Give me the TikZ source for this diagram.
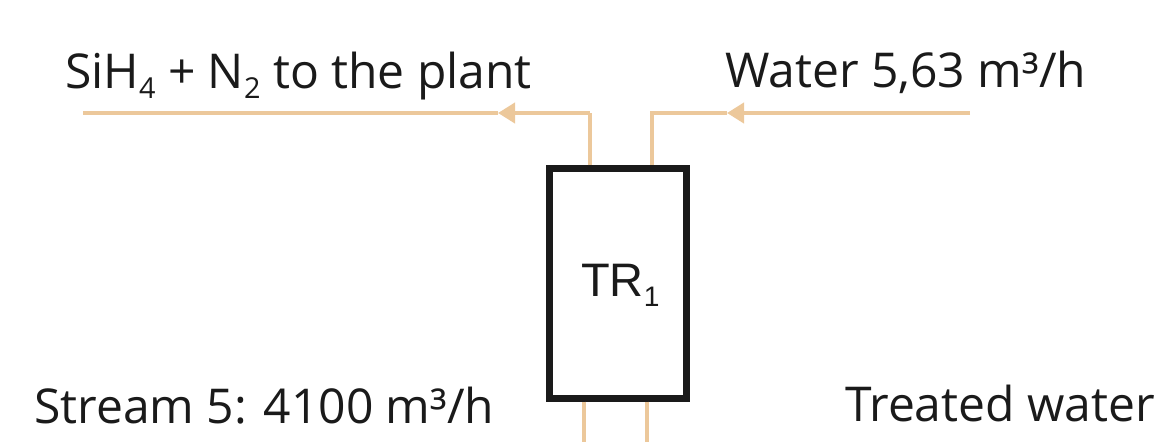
\documentclass[tikz,border=0pt]{standalone}
\usepackage{fontspec}
\setmainfont{Open Sans}
\newfontfamily\arialfont{Liberation Sans}
\usetikzlibrary{arrows.meta}
\definecolor{pipe}{RGB}{236,200,155}
\definecolor{ink}{RGB}{26,26,26}
\newcommand{\sbx}[1]{\raisebox{-0.22em}{\scalebox{0.6}{#1}}}
\tikzset{
  flow/.style={draw=pipe, line width=4pt},
  tip/.style={-{Triangle[length=17pt,width=20pt]}},
  lbl/.style={inner sep=0pt, anchor=base west, text=ink, font=\fontsize{48pt}{54pt}\selectfont},
  vessel/.style={draw=ink, line width=7pt, minimum width=137pt, minimum height=229.5pt, inner sep=0pt}
}
\begin{document}
\begin{tikzpicture}[x=1pt,y=-1pt]
\useasboundingbox (0,0) rectangle (1160,442);
\node[vessel] (tr) at (618,283.25) {};
\node[lbl, font=\arialfont\fontsize{47pt}{53pt}\selectfont] (trl) at (581,296) {TR\sbx{1}};
% top streams
\coordinate (outEnd) at (83,113);
\coordinate (outTip) at (498,113);
\coordinate (outCorner) at (590,113);
\coordinate (inStart) at (970,113);
\coordinate (inTip) at (727,113);
\coordinate (inCorner) at (652,113);
\draw[flow] (outCorner |- tr.north) -- (outCorner);
\draw[flow, tip] (outCorner) -- (outTip);
\draw[flow] (outTip) -- (outEnd);
\draw[flow, tip] (inStart) -- (inTip);
\draw[flow] (inTip) -- (inCorner) -- (inCorner |- tr.north);
% bottom streams
\coordinate (b1) at (584,442);
\coordinate (b2) at (647,442);
\draw[flow] (b1 |- tr.south) -- (b1);
\draw[flow] (b2 |- tr.south) -- (b2);
% labels
\node[lbl] (l1) at (65,88) {SiH\sbx{4} + N\sbx{2} to the plant};
\node[lbl] (l2) at (725,87) {Water 5,63 m³/h};
\node[lbl] (l3) at (34,423) {Stream 5: 4100 m³/h};
\node[lbl] (l4) at (845,421) {Treated water};
\end{tikzpicture}
\end{document}
